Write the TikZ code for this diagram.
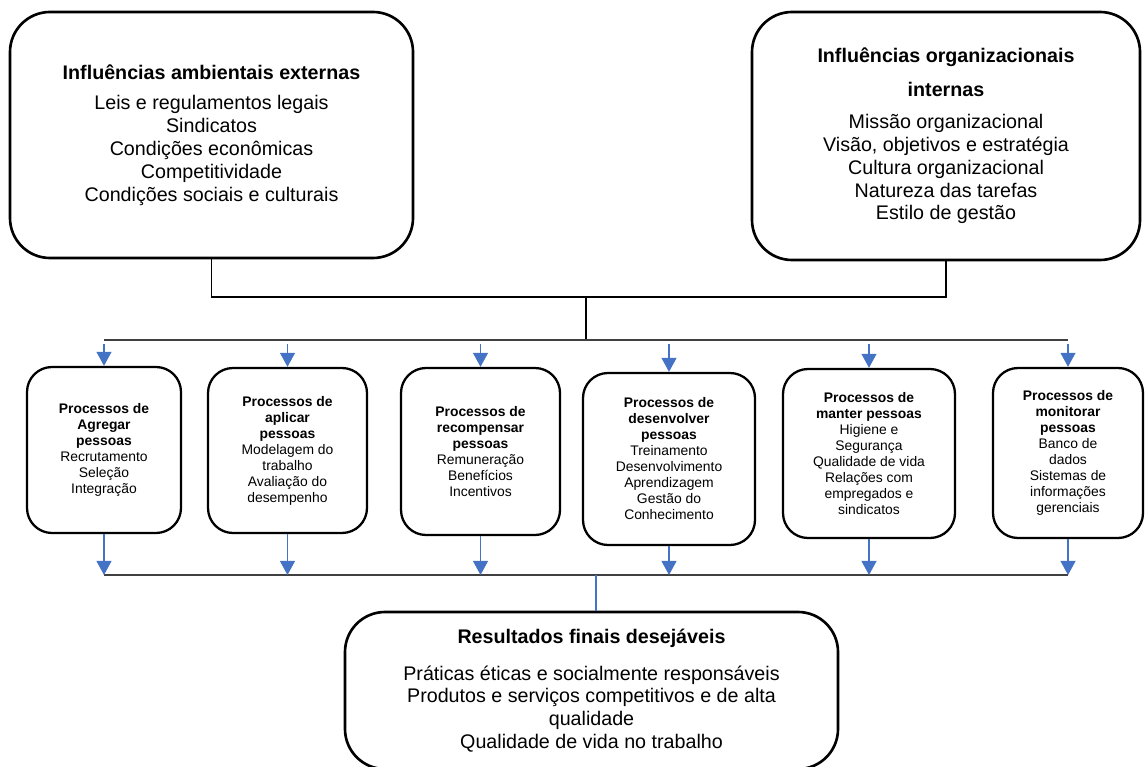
\documentclass[tikz,border=0pt]{standalone}
\usepackage{fontspec}
\setmainfont{Liberation Sans}
\usetikzlibrary{arrows.meta,positioning}
\definecolor{azulseta}{RGB}{68,114,196}
\definecolor{cinza}{RGB}{64,64,64}
\tikzstyle{grande} = [rectangle, rounded corners=0.8cm, draw=black, line width=1.5pt, align=center, inner sep=0pt, font=\fontsize{11.2}{13}\selectfont]
\tikzstyle{proc} = [rectangle, rounded corners=0.5cm, draw=black, line width=1.3pt, align=center, inner sep=0pt, font=\fontsize{7.9}{9.1}\selectfont]
\tikzstyle{seta} = [-{Triangle[width=8.5pt,length=8pt]}, azulseta, line width=0.8pt]
\tikzstyle{liga} = [black, line width=0.7pt]
\tikzstyle{barra} = [cinza, line width=1.1pt]

\begin{document}
\begin{tikzpicture}
		\useasboundingbox (0,0) rectangle (22.9,-15.34);

		% influencias
		\node[grande, minimum width=8.06cm, minimum height=4.92cm] (ext) at (4.23,-2.7)
		{\textbf{Influências ambientais externas}\\[4.5pt] Leis e regulamentos legais\\ Sindicatos\\ Condições econômicas\\ Competitividade\\ Condições sociais e culturais};
		\node[grande, minimum width=7.76cm, minimum height=4.96cm] (int) at (18.92,-2.72)
		{\textbf{Influências organizacionais}\\[6pt] \textbf{internas}\\[5.5pt] Missão organizacional\\ Visão, objetivos e estratégia\\ Cultura organizacional\\ Natureza das tarefas\\ Estilo de gestão};

		% processos
		\node[proc, minimum width=3.08cm, minimum height=3.32cm] (p1) at (2.08,-9.0)
		{\textbf{Processos de}\\ \textbf{Agregar}\\ \textbf{pessoas}\\ Recrutamento\\ Seleção\\ Integração};
		\node[proc, minimum width=3.18cm, minimum height=3.3cm] (p2) at (5.75,-9.01)
		{\textbf{Processos de}\\ \textbf{aplicar}\\ \textbf{pessoas}\\ Modelagem do\\ trabalho\\ Avaliação do\\ desempenho};
		\node[proc, minimum width=3.18cm, minimum height=3.34cm] (p3) at (9.61,-9.03)
		{\textbf{Processos de}\\ \textbf{recompensar}\\ \textbf{pessoas}\\ Remuneração\\ Benefícios\\ Incentivos};
		\node[proc, minimum width=3.44cm, minimum height=3.44cm] (p4) at (13.38,-9.18)
		{\textbf{Processos de}\\ \textbf{desenvolver}\\ \textbf{pessoas}\\ Treinamento\\ Desenvolvimento\\ Aprendizagem\\ Gestão do\\ Conhecimento};
		\node[proc, minimum width=3.44cm, minimum height=3.38cm] (p5) at (17.38,-9.07)
		{\textbf{Processos de}\\ \textbf{manter pessoas}\\ Higiene e\\ Segurança\\ Qualidade de vida\\ Relações com\\ empregados e\\ sindicatos};
		\node[proc, minimum width=3.0cm, minimum height=3.4cm] (p6) at (21.36,-9.06)
		{\textbf{Processos de}\\ \textbf{monitorar}\\ \textbf{pessoas}\\ Banco de\\ dados\\ Sistemas de\\ informações\\ gerenciais};

		% resultados
		\node[grande, minimum width=9.86cm, minimum height=3.14cm] (res) at (11.83,-13.81)
		{\textbf{Resultados finais desejáveis}\\[8pt] Práticas éticas e socialmente responsáveis\\ Produtos e serviços competitivos e de alta\\ qualidade\\ Qualidade de vida no trabalho};

		% ligacoes
		\coordinate (j1) at (11.72,-5.94);
		\coordinate (j2) at (11.72,-6.8);
		\coordinate (j3) at (11.92,-11.5);

		\draw[liga] (ext.south) |- (j1) -| (int.south);
		\draw[liga] (j1) -- (j2);
		\draw[barra] (p1.north |- j2) -- (p6.north |- j2);
		\draw[barra] (p1.south |- j3) -- (p6.south |- j3);
		\foreach \p in {p1,p2,p3,p4,p5,p6} {
			\draw[seta] ([yshift=-2pt]\p.north |- j2) -- (\p.north);
			\draw[seta] (\p.south) -- (\p.south |- j3);
		}
		\draw[azulseta, line width=0.8pt] (j3) -- (j3 |- res.north);
	\end{tikzpicture}
\end{document}
